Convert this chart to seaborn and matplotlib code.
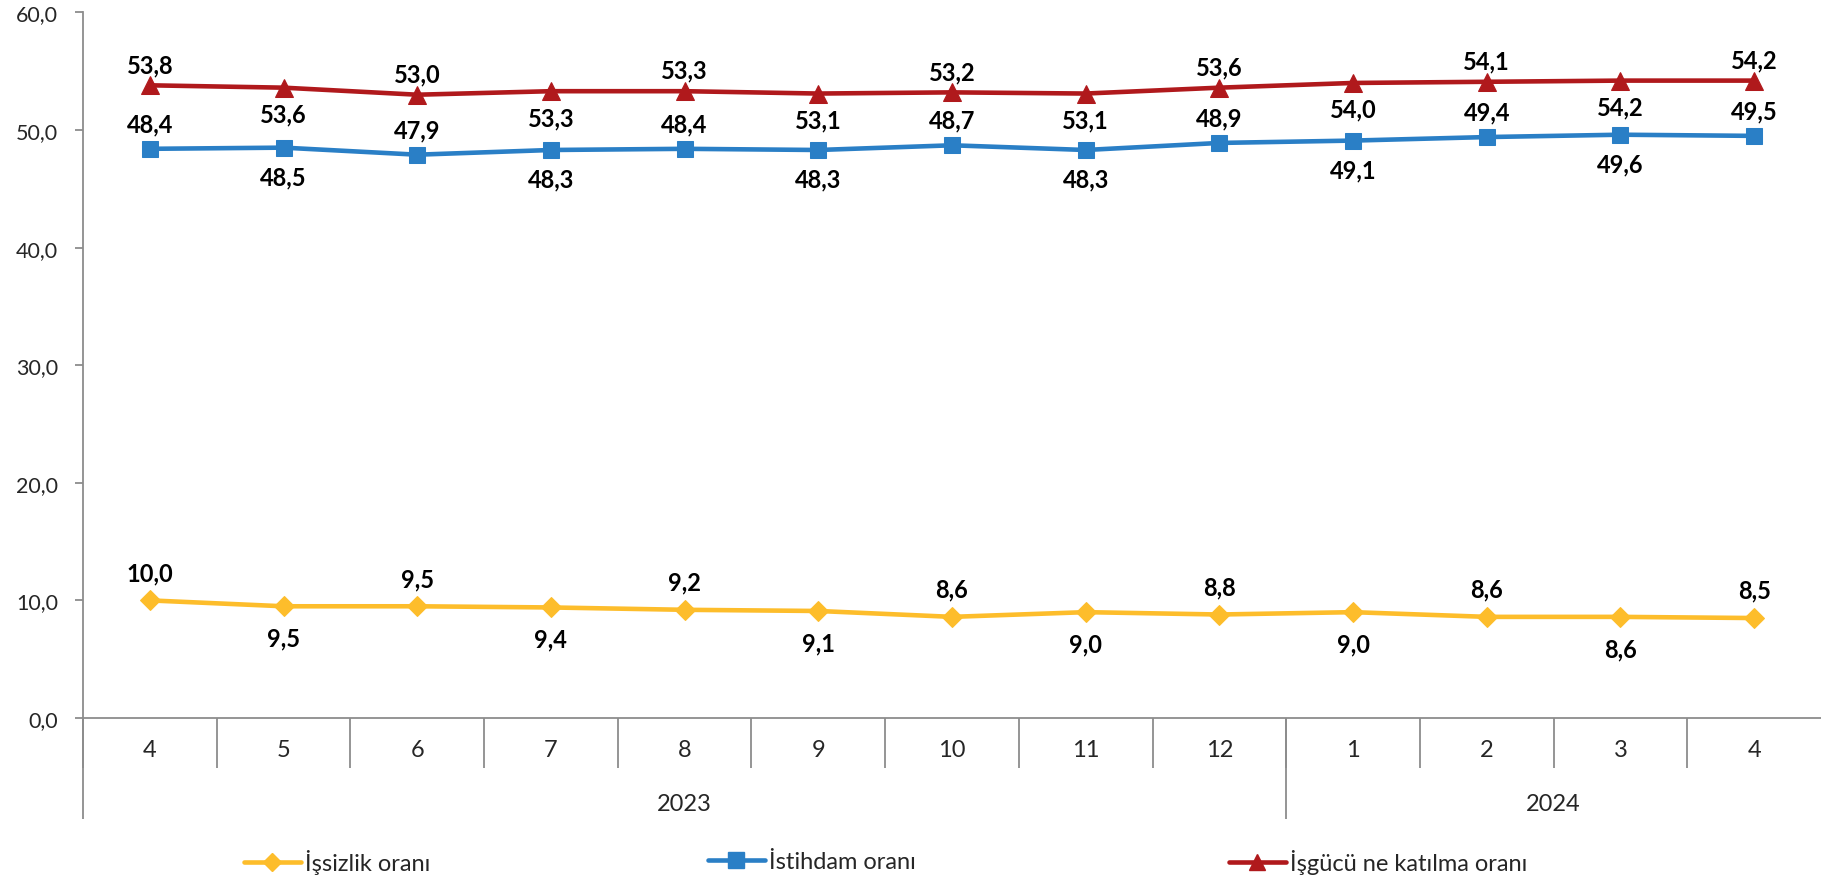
import numpy as np
import pandas as pd
import matplotlib.pyplot as plt
from matplotlib.lines import Line2D
import seaborn as sns

# veriler (2023/4 - 2024/4)
months = ['4', '5', '6', '7', '8', '9', '10', '11', '12', '1', '2', '3', '4']
years = ['2023', '2024']
year_spans = [(0, 8), (9, 12)]

issizlik = [10.0, 9.5, 9.5, 9.4, 9.2, 9.1, 8.6, 9.0, 8.8, 9.0, 8.6, 8.6, 8.5]
istihdam = [48.4, 48.5, 47.9, 48.3, 48.4, 48.3, 48.7, 48.3, 48.9, 49.1, 49.4, 49.6, 49.5]
isgucu = [53.8, 53.6, 53.0, 53.3, 53.3, 53.1, 53.2, 53.1, 53.6, 54.0, 54.1, 54.2, 54.2]

names = ['İşsizlik oranı', 'İstihdam oranı', 'İşgücüne katılma oranı']
legend_names = ['İşsizlik oranı', 'İstihdam oranı', 'İşgücü ne katılma oranı']
colors = {names[0]: '#FDBD2B', names[1]: '#2A7FC6', names[2]: '#B0191C'}
markers = {names[0]: 'D', names[1]: 's', names[2]: '^'}
msize = {names[0]: 10, names[1]: 12, names[2]: 13}
# etiket kaydırmaları (üst, alt) punto
offsets = {names[0]: (20, -23), names[1]: (18, -21), names[2]: (15, -19)}

sns.set_style('white')
plt.rcParams['font.family'] = ['Lato', 'DejaVu Sans']
gray = '#8C8C8C'

df = pd.DataFrame({
    'x': list(range(len(months))) * 3,
    'deger': issizlik + istihdam + isgucu,
    'seri': [names[0]] * 13 + [names[1]] * 13 + [names[2]] * 13,
})

fig = plt.figure(figsize=(18.21, 8.79), dpi=100)
ax = fig.add_axes([83 / 1821, 160 / 879, 1738 / 1821, 705.6 / 879])

for n in names:
    sub = df[df['seri'] == n]
    sns.lineplot(data=sub, x='x', y='deger', color=colors[n], marker=markers[n],
                 markersize=msize[n], markeredgecolor=colors[n], linewidth=3.3,
                 ax=ax, legend=False)
    up, down = offsets[n]
    for i, (xv, yv) in enumerate(zip(sub['x'], sub['deger'])):
        off = up if i % 2 == 0 else down
        ax.annotate(f'{yv:.1f}'.replace('.', ','), (xv, yv), xytext=(0, off),
                    textcoords='offset points', ha='center', va='center',
                    fontsize=17, fontweight='bold', color='black')

ax.set_xlim(-0.5, 12.5)
ax.set_ylim(0, 60)
ax.set_xlabel('')
ax.set_ylabel('')

for s in ['top', 'right']:
    ax.spines[s].set_visible(False)
for s in ['left', 'bottom']:
    ax.spines[s].set_color(gray)
    ax.spines[s].set_linewidth(1.3)

yt = np.arange(0, 61, 10)
ax.set_yticks(yt)
ax.set_yticklabels([f'{v:.1f}'.replace('.', ',') for v in yt], fontsize=15.5)
ax.tick_params(axis='y', length=6, width=1.3, color=gray, pad=12, left=True)

ax.set_xticks(np.arange(-0.5, 12, 1))
ax.set_xticklabels([])
ax.tick_params(axis='x', which='major', length=36, width=1.3, color=gray, bottom=True)
ax.set_xticks(range(len(months)), minor=True)
ax.set_xticklabels(months, minor=True, fontsize=17)
ax.tick_params(axis='x', which='minor', length=0, pad=15)

# yıl ayraçları ve etiketleri
tr = ax.get_xaxis_transform()
for a, b in year_spans:
    ax.vlines(a - 0.5, -0.143, 0, transform=tr, color=gray, lw=1.3, clip_on=False)
for yname, (a, b) in zip(years, year_spans):
    ax.text((a + b) / 2, -0.1205, yname, transform=tr, ha='center', va='center', fontsize=17)

# lejant
leg_x = [244, 708, 1229]
for n, ln, lx in zip(names, legend_names, leg_x):
    h = Line2D([], [], color=colors[n], lw=3.3, marker=markers[n],
               markersize=msize[n] - 1, markeredgecolor=colors[n])
    fig.legend([h], [ln], loc='center left', bbox_to_anchor=(lx / 1821, 1 - 863 / 879),
               frameon=False, fontsize=17, handlelength=2.4, handletextpad=0.2,
               borderpad=0, borderaxespad=0)

fig.savefig('out.png', dpi=100)
